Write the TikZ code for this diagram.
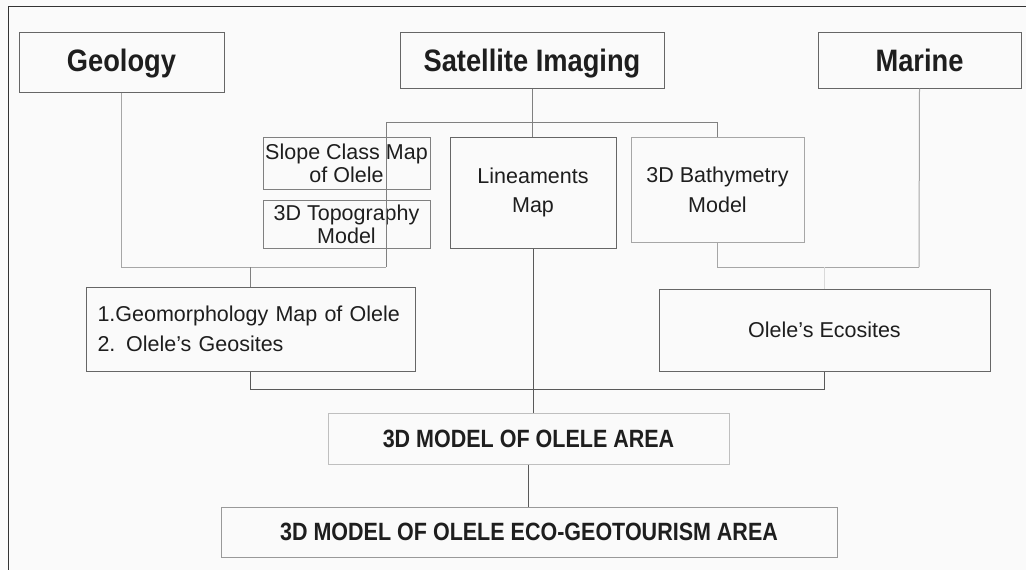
\documentclass[tikz,border=0pt]{standalone}
\usepackage{fontspec}
\setmainfont{Liberation Sans}
\newfontfamily\headfont[FakeStretch=0.88]{Liberation Sans}
\newfontfamily\capsfont[FakeStretch=0.86]{Liberation Sans}
\usetikzlibrary{calc}
\definecolor{ink}{HTML}{1E1E1E}
\begin{document}
\begin{tikzpicture}[x=1pt,y=-1pt,
  box/.style={draw=black!60, line width=1pt, inner sep=0pt, text=ink, align=center},
  headbox/.style={box, font=\headfont\bfseries\fontsize{31}{34}\selectfont,
    text height=28pt, text depth=6pt},
  capsbox/.style={box, font=\capsfont\bfseries\fontsize{25}{28}\selectfont},
  small/.style={box, draw=black!50, font=\fontsize{21.5}{23}\selectfont},
  mid/.style={box, font=\fontsize{21.5}{30}\selectfont},
  conn/.style={line width=1pt, draw=black!35},
  connmid/.style={line width=1pt, draw=black!50},
  conndark/.style={line width=1pt, draw=black!65}]
\useasboundingbox (0,0) rectangle (1026,570);
\fill[white!98!black] (0,0) rectangle (1026,570);
% outer frame (left and top edges)
\draw[line width=1pt, black!80] (8,570) -- (8,6) -- (1026,6);

% coordinates for the connector corners
\coordinate (jL) at (386,267);
\coordinate (jT) at (386,122);
\coordinate (jM) at (919,267);

% nodes (placed first so connectors can refer to them)
\path
  node[headbox, text depth=10pt, minimum width=205pt, minimum height=60pt] (geo) at (121.5,62) {Geology}
  node[headbox, minimum width=264pt, minimum height=56pt] (sat) at (532,60) {Satellite Imaging}
  node[headbox, minimum width=203pt, minimum height=56pt] (mar) at (919.5,60) {Marine}
  node[small, minimum width=167pt, minimum height=52pt] (slope) at (346.5,163) {Slope Class Map\\of Olele}
  node[small, minimum width=167pt, minimum height=48pt] (topo) at (346.5,224) {3D Topography\\Model}
  node[box, font=\fontsize{21.5}{29}\selectfont, minimum width=166pt, minimum height=111pt] (lin) at (533,192.5) {Lineaments\\Map}
  node[mid, draw=black!35, minimum width=173pt, minimum height=105pt] (bath) at (717.5,189.5) {3D Bathymetry\\Model}
  node[mid, minimum width=329pt, minimum height=84pt, text width=306pt, align=left] (geom) at (250.5,329) {1.Geomorphology Map of Olele\\2. Olele’s Geosites}
  node[mid, minimum width=331pt, minimum height=82pt] (eco) at (824.5,330) {Olele’s Ecosites}
  node[capsbox, draw=black!25, minimum width=401pt, minimum height=51pt] (m3d) at (528.5,438.5) {3D MODEL OF OLELE AREA}
  node[capsbox, draw=black!40, minimum width=616pt, minimum height=50pt] (fin) at (529,532) {3D MODEL OF OLELE ECO-GEOTOURISM AREA};

% connectors
\draw[conn] (geo.south) |- (jL);
\draw[connmid] (jL) -- (jT) -| (bath.north);
\draw[connmid] (sat.south) -- (sat.south |- lin.north);
\draw[conn] (bath.south) |- (jM);
\draw[conn] (mar.south) -- (jM);
\draw[line width=1pt, black!15] (eco.north |- jM) -- (eco.north);
\draw[connmid] (geom.north |- jL) -- (geom.north);
\coordinate (bR) at ($(eco.south)+(0,18)$);
\draw[conndark] (geom.south) |- (bR) -- (eco.south);
\draw[conndark] (lin.south) -- (lin.south |- m3d.north);
\draw[conndark] (m3d.south) -- (m3d.south |- fin.north);
\end{tikzpicture}
\end{document}
